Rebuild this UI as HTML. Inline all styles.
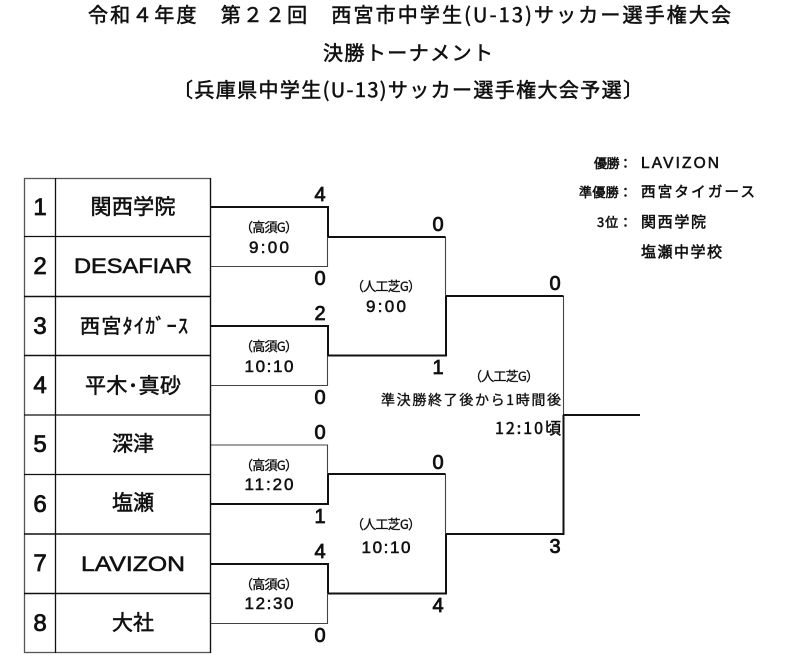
<!DOCTYPE html>
<html lang="ja"><head><meta charset="utf-8">
<style>
html,body{margin:0;padding:0;background:#fff;width:800px;height:661px;overflow:hidden}
svg{display:block}
text{font-family:"Liberation Sans","Noto Sans CJK JP",sans-serif;fill:#111;stroke:#111;stroke-width:.55px}
text.j{font-family:"Noto Sans CJK JP",sans-serif}
.m{text-anchor:middle}
text.s{stroke-width:.8px}
text.l{stroke-width:.35px}
</style></head><body>
<svg width="800" height="661" viewBox="0 0 800 661" xmlns="http://www.w3.org/2000/svg">
<!-- titles -->
<text class="j" x="88" y="22" font-size="20" textLength="643" lengthAdjust="spacing">令和４年度　第２２回　西宮市中学生(U-13)サッカー選手権大会</text>
<text class="j" x="323" y="60" font-size="20" textLength="170" lengthAdjust="spacing">決勝トーナメント</text>
<text class="j" x="173" y="97" font-size="20" textLength="470" lengthAdjust="spacing">〔兵庫県中学生(U-13)サッカー選手権大会予選〕</text>
<!-- results -->
<text class="j" x="594" y="168" font-size="13" textLength="38">優勝：</text>
<text x="641" y="168" font-size="15.5" textLength="78" lengthAdjust="spacing">LAVIZON</text>
<text class="j" x="579" y="197" font-size="13" textLength="53">準優勝：</text>
<text class="j" x="641" y="197" font-size="14.5" textLength="114">西宮タイガース</text>
<text class="j" x="597" y="227" font-size="13" textLength="35">3位：</text>
<text class="j" x="641" y="227" font-size="15" textLength="65">関西学院</text>
<text class="j" x="641" y="257" font-size="15" textLength="81">塩瀬中学校</text>
<!-- table -->
<g stroke="#333" fill="none">
<rect x="24.5" y="178.5" width="186" height="474" stroke="#555" stroke-width="1.3"/>
<line x1="55.5" y1="178" x2="55.5" y2="653" stroke="#111" stroke-width="1.3"/>
<g stroke="#111" stroke-width="1.2">
<line x1="24" y1="236.5" x2="211" y2="236.5"/>
<line x1="24" y1="296.5" x2="211" y2="296.5" stroke-width="1.6"/>
<line x1="24" y1="355.5" x2="211" y2="355.5" stroke-width="1.6"/>
<line x1="24" y1="415" x2="211" y2="415"/>
<line x1="24" y1="474.5" x2="211" y2="474.5"/>
<line x1="24" y1="534" x2="211" y2="534" stroke-width="1.6"/>
<line x1="24" y1="593.5" x2="211" y2="593.5" stroke-width="1.6"/>
<line x1="210.5" y1="178" x2="210.5" y2="653"/>
</g>
</g>
<!-- seeds -->
<text class="m s" x="40" y="215" font-size="24">1</text>
<text class="m s" x="40" y="274" font-size="24">2</text>
<text class="m s" x="40" y="334" font-size="24">3</text>
<text class="m s" x="40" y="393" font-size="24">4</text>
<text class="m s" x="40" y="452" font-size="24">5</text>
<text class="m s" x="40" y="512" font-size="24">6</text>
<text class="m s" x="40" y="571" font-size="24">7</text>
<text class="m s" x="40" y="631" font-size="24">8</text>
<!-- teams -->
<text class="j m" x="133" y="214" font-size="21" textLength="85">関西学院</text>
<text class="m" x="133" y="273" font-size="21" textLength="118" lengthAdjust="spacingAndGlyphs">DESAFIAR</text>
<text class="j m" x="134" y="333" font-size="20" textLength="108">西宮ﾀｲｶﾞｰｽ</text>
<text class="j m" x="133" y="393" font-size="21" textLength="96">平木･真砂</text>
<text class="j m" x="133" y="451" font-size="21" textLength="42">深津</text>
<text class="j m" x="133" y="510" font-size="21" textLength="42">塩瀬</text>
<text class="m" x="133" y="571" font-size="21" textLength="104" lengthAdjust="spacingAndGlyphs">LAVIZON</text>
<text class="j m" x="133" y="630" font-size="21" textLength="42">大社</text>
<!-- bracket -->
<g fill="none" stroke="#111">
<g stroke-width="1.1" stroke="#444">
<path d="M211 266.5H327.5V237"/>
<path d="M211 385.5H327.5V356"/>
<path d="M211 445H327.5V474"/>
<path d="M211 623.5H327.5V593"/>
<path d="M445.5 237V296"/>
<path d="M445.5 474V534"/>
<path d="M563.5 296V415"/>
</g>
<g stroke-width="2">
<path d="M211 207H328V237"/>
<path d="M211 326H328V356"/>
<path d="M211 504H328V474"/>
<path d="M211 564H328V593"/>
<path d="M328 237H445.5"/>
<path d="M328 355.5H446V296"/>
<path d="M328 474H445.5"/>
<path d="M328 593.5H446V534"/>
<path d="M446 296H563.5"/>
<path d="M446 534H563.5V415"/>
<path d="M563 415H640"/>
</g>
</g>
<!-- scores -->
<g font-size="20">
<text class="m s" x="320" y="201">4</text>
<text class="m s" x="320" y="285">0</text>
<text class="m s" x="320" y="320">2</text>
<text class="m s" x="320" y="404">0</text>
<text class="m s" x="320" y="439">0</text>
<text class="m s" x="320" y="523">1</text>
<text class="m s" x="320" y="558">4</text>
<text class="m s" x="320" y="642">0</text>
<text class="m s" x="438" y="231">0</text>
<text class="m s" x="438" y="374">1</text>
<text class="m s" x="438" y="469">0</text>
<text class="m s" x="438" y="612">4</text>
<text class="m s" x="555" y="290">0</text>
<text class="m s" x="555" y="553">3</text>
</g>
<!-- match labels -->
<text class="j m l" x="269" y="232" font-size="13" textLength="58">（高須G）</text>
<text class="m" x="269" y="253" font-size="17" textLength="40">9:00</text>
<text class="j m l" x="269" y="351" font-size="13" textLength="58">（高須G）</text>
<text class="m" x="269" y="372" font-size="17" textLength="49">10:10</text>
<text class="j m l" x="269" y="470" font-size="13" textLength="58">（高須G）</text>
<text class="m" x="269" y="490" font-size="17" textLength="49">11:20</text>
<text class="j m l" x="269" y="589" font-size="13" textLength="58">（高須G）</text>
<text class="m" x="269" y="609" font-size="17" textLength="49">12:30</text>
<text class="j m l" x="386" y="291" font-size="13" textLength="70">（人工芝G）</text>
<text class="m" x="386" y="312" font-size="17" textLength="40">9:00</text>
<text class="j m l" x="386" y="529" font-size="13" textLength="70">（人工芝G）</text>
<text class="m" x="386" y="553" font-size="17" textLength="49">10:10</text>
<text class="j m l" x="504" y="381" font-size="13" textLength="70">（人工芝G）</text>
<text class="j l" x="381" y="405" font-size="14" textLength="180">準決勝終了後から1時間後</text>
<text class="j" x="495" y="434" font-size="16" textLength="66">12:10頃</text>
</svg>
</body></html>
